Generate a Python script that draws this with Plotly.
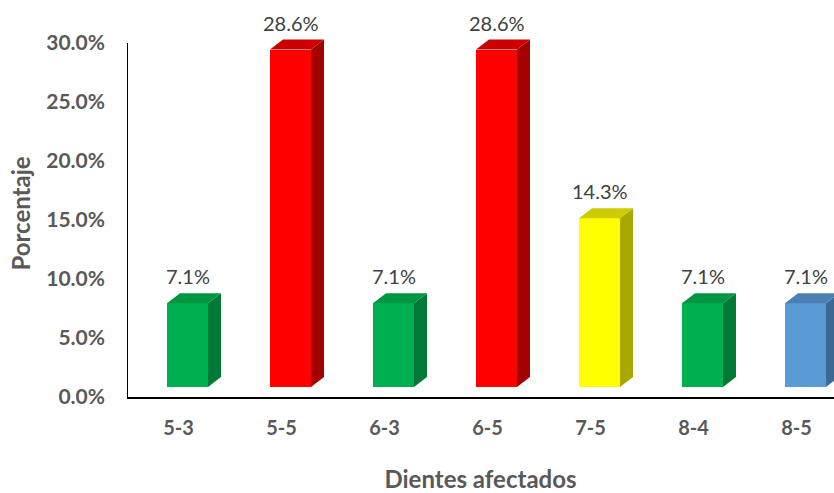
import plotly.graph_objects as go

# ---- data ----
categories = ["5-3", "5-5", "6-3", "6-5", "7-5", "8-4", "8-5"]
values = [7.1, 28.6, 7.1, 28.6, 14.3, 7.1, 7.1]
value_labels = ["7.1%", "28.6%", "7.1%", "28.6%", "14.3%", "7.1%", "7.1%"]
y_ticks = [0, 5, 10, 15, 20, 25, 30]
y_tick_labels = ["0.0%", "5.0%", "10.0%", "15.0%", "20.0%", "25.0%", "30.0%"]

# ---- style ----
front_colors = ["#00B050", "#FF0000", "#00B050", "#FF0000", "#FFFF00", "#00B050", "#5B9BD5"]
top_colors = ["#009642", "#CC0000", "#009642", "#CC0000", "#CCCC00", "#009642", "#4A80B2"]
side_colors = ["#007A36", "#A30000", "#007A36", "#A30000", "#A8A800", "#007A36", "#3C6A94"]

W, H = 834, 493
ML, MR, MT, MB = 127, 0, 30, 96
plot_h = H - MT - MB
plot_w = W - ML - MR
PX_X = 103.0
PX_Y = 11.8
x_lo = -0.5
x_hi = x_lo + plot_w / PX_X

off = 9 / PX_X        # front face offset to the right
bw = 41 / PX_X        # front face width
dx = 13 / PX_X        # depth in x
dy = 10 / PX_Y        # depth in y
floor = 10 / PX_Y     # front floor raise

fig = go.Figure()

for i, (v, fc, tc, sc) in enumerate(zip(values, front_colors, top_colors, side_colors)):
    xl = i + off - bw / 2
    xr = i + off + bw / 2
    # side face
    fig.add_trace(go.Scatter(
        x=[xr, xr + dx, xr + dx, xr, xr], y=[0, dy, v + dy, v, 0],
        mode="lines", fill="toself", fillcolor=sc, line=dict(width=0),
        yaxis="y2", hoverinfo="skip", showlegend=False))
    # top face
    fig.add_trace(go.Scatter(
        x=[xl, xl + dx, xr + dx, xr, xl], y=[v, v + dy, v + dy, v, v],
        mode="lines", fill="toself", fillcolor=tc, line=dict(width=0),
        yaxis="y2", hoverinfo="skip", showlegend=False))

# front faces
fig.add_trace(go.Bar(
    x=[i + off for i in range(len(categories))], y=values, width=bw,
    marker=dict(color=front_colors, line=dict(width=0)),
    yaxis="y2", showlegend=False, hoverinfo="skip"))

for i, (v, t) in enumerate(zip(values, value_labels)):
    fig.add_annotation(x=i + off, y=v + dy, xref="x", yref="y2", text=t,
                       showarrow=False, yanchor="bottom", yshift=3,
                       font=dict(family="Lato", size=20, color="#404040"))

fig.add_shape(type="line", xref="x", yref="y", x0=x_lo, x1=x_lo, y0=0, y1=30,
              line=dict(color="#000000", width=2))

fig.update_layout(
    width=W, height=H,
    margin=dict(l=ML, r=MR, t=MT, b=MB),
    paper_bgcolor="white", plot_bgcolor="white",
    bargap=0,
    xaxis=dict(range=[x_lo, x_hi], tickvals=list(range(len(categories))), ticktext=categories,
               showgrid=False, zeroline=False, showline=True, linecolor="#000000", linewidth=2,
               ticks="", ticklabelstandoff=12,
               tickfont=dict(family="Lato", size=20, color="#595959", weight="bold"),
               title=dict(text="<b>Dientes afectados</b>", standoff=36,
                          font=dict(family="Lato", size=24, color="#595959"))),
    yaxis=dict(range=[0, plot_h / PX_Y], tickvals=y_ticks, ticktext=y_tick_labels,
               showgrid=False, zeroline=False, showline=False, ticks="",
               ticklabelstandoff=21,
               tickfont=dict(family="Lato", size=21, color="#595959", weight="bold"),
               title=dict(text="<b>Porcentaje</b>", standoff=8,
                          font=dict(family="Lato", size=24, color="#595959"))),
    yaxis2=dict(range=[-floor, -floor + plot_h / PX_Y], overlaying="y", visible=False),
)

fig.write_html("out.html")
